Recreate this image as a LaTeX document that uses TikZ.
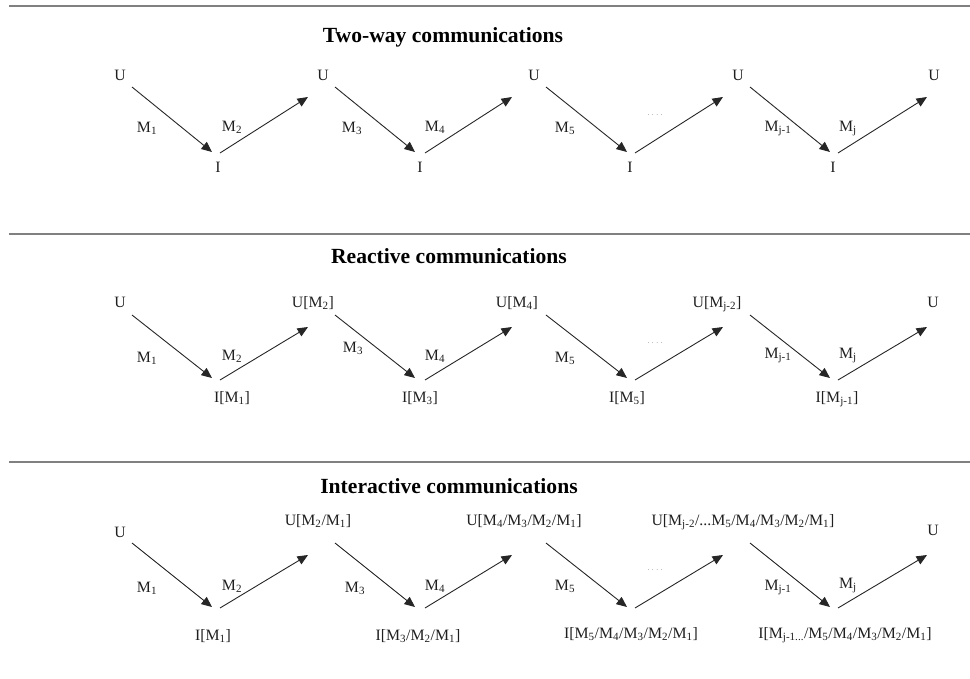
\documentclass[tikz,border=0pt]{standalone}
\usepackage{fontspec}
\setmainfont{Liberation Serif}
\usetikzlibrary{arrows.meta}
\newcommand\msub[1]{\textsubscript{#1}}

\begin{document}
\begin{tikzpicture}[x=1pt,y=-1pt,
  rulebar/.style={draw=black!50, line width=2pt},
  heading/.style={anchor=base, inner sep=0pt, font=\fontsize{21.6}{24}\selectfont\bfseries},
  lbl/.style={anchor=base, inner sep=0pt, font=\fontsize{15.8}{18}\selectfont, text=black!88},
  msg/.style={-{Triangle[length=10.5pt,width=9pt]}, line width=0.9pt, draw=black!85},
  gap/.style={anchor=base, inner sep=0pt, font=\fontsize{7.5}{8}\selectfont, text=black!50}]
\useasboundingbox (0,0) rectangle (970,678);

% section rules
\foreach \k/\y in {1/6, 2/234, 3/462}{
  \coordinate (rule\k l) at (9,\y);
  \coordinate (rule\k r) at (970,\y);
  \draw[rulebar] (rule\k l) -- (rule\k r);
}

% message arrows: four V shapes per row (down to I, up to U)
\foreach \r/\ya/\yb/\yc/\yd in {1/87/152/153/97, 2/315/378/380/327, 3/543/607/608/555}{
  \foreach \v/\xa/\xb/\xc/\xd in {1/132/212/220/308, 2/335/415/425/512, 3/546/627/635/723, 4/750/830/838/927}{
    \coordinate (r\r v\v a) at (\xa,\ya);
    \coordinate (r\r v\v b) at (\xb,\yb);
    \coordinate (r\r v\v c) at (\xc,\yc);
    \coordinate (r\r v\v d) at (\xd,\yd);
    \draw[msg] (r\r v\v a) -- (r\r v\v b);
    \draw[msg] (r\r v\v c) -- (r\r v\v d);
  }
}

% ---- Two-way communications ----
\node[heading] (t1) at (443,42) {Two-way communications};
\node[lbl] (u11) at (120,80) {U};
\node[lbl] (u12) at (323,80) {U};
\node[lbl] (u13) at (534,80) {U};
\node[lbl] (u14) at (738,80) {U};
\node[lbl] (u15) at (934,80) {U};
\node[lbl] (i11) at (218,172) {I};
\node[lbl] (i12) at (420,172) {I};
\node[lbl] (i13) at (630,172) {I};
\node[lbl] (i14) at (833,172) {I};
\node[lbl] (m11) at (147,132) {M\msub{1}};
\node[lbl] (m12) at (232,131) {M\msub{2}};
\node[lbl] (m13) at (352,132) {M\msub{3}};
\node[lbl] (m14) at (435,131) {M\msub{4}};
\node[lbl] (m15) at (565,132) {M\msub{5}};
\node[gap] (g1)  at (655,115) {. . . .};
\node[lbl] (m16) at (778,131) {M\msub{j-1}};
\node[lbl] (m17) at (848,131) {M\msub{j}};

% ---- Reactive communications ----
\node[heading] (t2) at (449,263) {Reactive communications};
\node[lbl] (u21) at (120,307) {U};
\node[lbl] (u22) at (313,307) {U[M\msub{2}]};
\node[lbl] (u23) at (517,307) {U[M\msub{4}]};
\node[lbl] (u24) at (717,307) {U[M\msub{j-2}]};
\node[lbl] (u25) at (933,307) {U};
\node[lbl] (i21) at (232,402) {I[M\msub{1}]};
\node[lbl] (i22) at (420,402) {I[M\msub{3}]};
\node[lbl] (i23) at (627,402) {I[M\msub{5}]};
\node[lbl] (i24) at (837,402) {I[M\msub{j-1}]};
\node[lbl] (m21) at (147,362) {M\msub{1}};
\node[lbl] (m22) at (232,360) {M\msub{2}};
\node[lbl] (m23) at (353,352) {M\msub{3}};
\node[lbl] (m24) at (435,360) {M\msub{4}};
\node[lbl] (m25) at (565,362) {M\msub{5}};
\node[gap] (g2)  at (655,343) {. . . .};
\node[lbl] (m26) at (778,358) {M\msub{j-1}};
\node[lbl] (m27) at (848,358) {M\msub{j}};

% ---- Interactive communications ----
\node[heading] (t3) at (449,493) {Interactive communications};
\node[lbl] (u31) at (120,537) {U};
\node[lbl] (u32) at (318,525) {U[M\msub{2}/M\msub{1}]};
\node[lbl] (u33) at (524,525) {U[M\msub{4}/M\msub{3}/M\msub{2}/M\msub{1}]};
\node[lbl] (u34) at (743,525) {U[M\msub{j-2}/...M\msub{5}/M\msub{4}/M\msub{3}/M\msub{2}/M\msub{1}]};
\node[lbl] (u35) at (933,535) {U};
\node[lbl] (i31) at (213,640) {I[M\msub{1}]};
\node[lbl] (i32) at (418,640) {I[M\msub{3}/M\msub{2}/M\msub{1}]};
\node[lbl] (i33) at (631,638) {I[M\msub{5}/M\msub{4}/M\msub{3}/M\msub{2}/M\msub{1}]};
\node[lbl] (i34) at (845,638) {I[M\msub{j-1...}/M\msub{5}/M\msub{4}/M\msub{3}/M\msub{2}/M\msub{1}]};
\node[lbl] (m31) at (147,592) {M\msub{1}};
\node[lbl] (m32) at (232,590) {M\msub{2}};
\node[lbl] (m33) at (355,592) {M\msub{3}};
\node[lbl] (m34) at (435,590) {M\msub{4}};
\node[lbl] (m35) at (565,590) {M\msub{5}};
\node[gap] (g3)  at (655,570) {. . . .};
\node[lbl] (m36) at (778,590) {M\msub{j-1}};
\node[lbl] (m37) at (848,588) {M\msub{j}};
\end{tikzpicture}
\end{document}
